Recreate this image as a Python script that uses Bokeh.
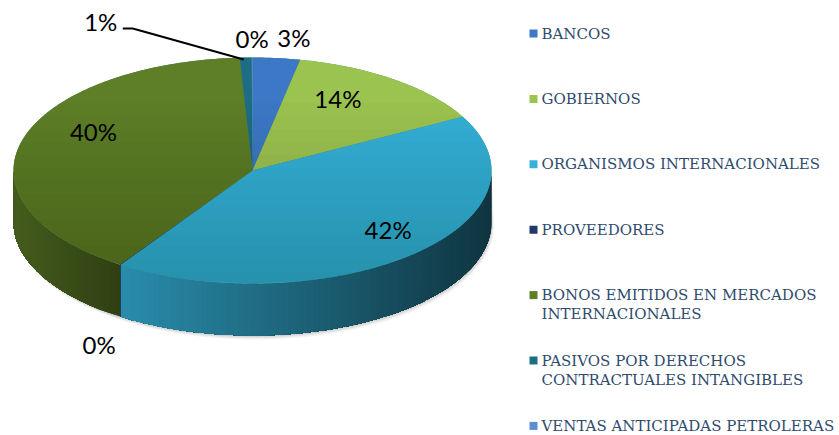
import numpy as np
from bokeh.plotting import figure
from bokeh.models import Range1d
from bokeh.embed import file_html
from bokeh.resources import INLINE
from bokeh.core.properties import value

# ---------------- data ----------------
categories = [
    "BANCOS",
    "GOBIERNOS",
    "ORGANISMOS INTERNACIONALES",
    "PROVEEDORES",
    "BONOS EMITIDOS EN MERCADOS INTERNACIONALES",
    "PASIVOS POR DERECHOS CONTRACTUALES INTANGIBLES",
    "VENTAS ANTICIPADAS PETROLERAS",
]
legend_lines = [
    ["BANCOS"],
    ["GOBIERNOS"],
    ["ORGANISMOS INTERNACIONALES"],
    ["PROVEEDORES"],
    ["BONOS EMITIDOS EN MERCADOS", "INTERNACIONALES"],
    ["PASIVOS POR DERECHOS", "CONTRACTUALES INTANGIBLES"],
    ["VENTAS ANTICIPADAS PETROLERAS"],
]
shares = [3.2, 13.9, 42.2, 0.05, 39.8, 0.8, 0.05]
pct_labels = ["3%", "14%", "42%", "0%", "40%", "1%", "0%"]
colors = ["#3C78C6", "#9BC34F", "#34B1D7", "#1F3A66", "#5E7E27", "#1D6E84", "#5A8FD2"]

# ---------------- layout (styling) ----------------
CX, CY, RX, RY, DEPTH = 252.0, 170.0, 239.0, 113.0, 52.0
label_r = [1.18, 0.60, 0.84, 1.16, 0.69, 1.0, 1.17]
label_nudge = [(13, 0), (0, -18), (0, -11), (0, 65), (0, -18), (-145, -36), (0, 0)]

W, H = 839, 435
p = figure(width=W, height=H, x_range=Range1d(0, W), y_range=Range1d(H, 0),
           output_backend="svg", toolbar_location=None, min_border=0,
           x_axis_location=None, y_axis_location=None)
p.grid.visible = False
p.outline_line_color = None
p.background_fill_color = "white"
p.border_fill_color = "white"


def pt(th, r=1.0, dy=0.0):
    return CX + RX * r * np.sin(th), CY - RY * r * np.cos(th) + dy


def shade(hexc, f):
    h = hexc.lstrip("#")
    r, g, b = (int(h[i:i + 2], 16) for i in (0, 2, 4))
    return "#%02x%02x%02x" % (int(r * f), int(g * f), int(b * f))


total = float(sum(shares))
bounds = np.concatenate([[0.0], np.cumsum(shares)]) / total * 2 * np.pi

# ---------- soft shadow under the front rim ----------
ths = np.linspace(np.pi / 2, 3 * np.pi / 2, 120)
for off, a in [(4.0, 0.10), (2.5, 0.15), (1.2, 0.2)]:
    xs_b, ys_b = pt(ths, 1.0, DEPTH)
    xs_t, ys_t = pt(ths[::-1], 1.0, 0)
    p.patch(np.concatenate([xs_b + off * 0.6, xs_t]), np.concatenate([ys_b + off, ys_t]),
            fill_color="#808080", fill_alpha=a, line_color=None)

# ---------- side walls (painter strips, each running to the slice end) ----------
lo, hi = np.pi / 2, 3 * np.pi / 2
for i in range(len(shares)):
    a0, a1 = max(bounds[i], lo), min(bounds[i + 1], hi)
    if a1 <= a0:
        continue
    n = max(2, int(np.degrees(a1 - a0) / 1.5))
    th = np.linspace(a0, a1, n + 1)
    xs, _ = pt(th)
    xmin, xmax = xs.min(), xs.max()
    span = max(xmax - xmin, 1.0)
    f_left = 0.80 if span > 200 else 0.74
    f_right = max(0.30, f_left - 0.0022 * span)
    px, py, cols = [], [], []
    for k in range(n):
        seg = np.linspace(th[k], a1, max(2, n - k + 1))
        sx, sy = pt(seg)
        px.append(np.concatenate([sx, sx[::-1]]))
        py.append(np.concatenate([sy, sy[::-1] + DEPTH]))
        x0, _ = pt(th[k])
        x1, _ = pt(th[k + 1])
        tt = ((x0 + x1) / 2 - xmin) / span
        cols.append(shade(colors[i], f_left + (f_right - f_left) * tt))
    p.patches(px, py, fill_color=cols, line_color=None)

# ---------- top faces ----------
xs_e, ys_e = pt(np.linspace(0, 2 * np.pi, 361))
p.patch(xs_e, ys_e, fill_color="#4f8a6a", line_color=None)
for i in range(len(shares)):
    a0, a1 = bounds[i], bounds[i + 1]
    if a1 - a0 <= 0:
        continue
    n = max(2, int(np.degrees(a1 - a0) * 2))
    th = np.linspace(a0, a1, n + 1)
    xs, ys = pt(th)
    p.patch(np.concatenate([[CX], xs]), np.concatenate([[CY], ys]),
            fill_color=colors[i], line_color=None)

# ---------- lighting gradient over the top face ----------
for yb in np.linspace(CY - RY * 0.6, CY + RY * 0.9, 14):
    yy = np.linspace(yb, CY + RY, 60)
    hw = RX * np.sqrt(np.clip(1 - ((yy - CY) / RY) ** 2, 0, 1))
    p.patch(np.concatenate([CX - hw, (CX + hw)[::-1]]), np.concatenate([yy, yy[::-1]]),
            fill_color="black", fill_alpha=0.013, line_color=None)

# ---------- percentage labels ----------
mids = (bounds[:-1] + bounds[1:]) / 2
lx, ly = [], []
for i in range(len(shares)):
    x, y = pt(mids[i], label_r[i])
    lx.append(x + label_nudge[i][0])
    ly.append(y + label_nudge[i][1])
p.text(lx, ly, text=pct_labels, text_font=value("Lato"), text_font_size="24px",
       text_color="black", text_align="center", text_baseline="middle")

# leader line for the small slice (PASIVOS)
j = 5
ex, ey = pt(mids[j])
p.line([lx[j] + 22, lx[j] + 32, ex - 2], [ly[j] + 7, ly[j] + 7, ey + 2],
       line_color="black", line_width=2)

# ---------- legend ----------
LX, LY0, LSTEP, LLINE = 533, 33, 65.4, 19
mx, my, tx, ty, tt = [], [], [], [], []
for i, lines in enumerate(legend_lines):
    y = LY0 + i * LSTEP
    mx.append(LX)
    my.append(y)
    for k, s in enumerate(lines):
        tx.append(LX + 8)
        ty.append(y + k * LLINE)
        tt.append(s)
p.rect(mx, my, width=8, height=8, width_units="screen", height_units="screen",
       fill_color=colors, line_color=None)
p.text(tx, ty, text=tt, text_font=value("DejaVu Serif"), text_font_size="15px",
       text_color="#2F4B6E", text_align="left", text_baseline="middle")

open("out.html", "w").write(file_html(p, INLINE))
